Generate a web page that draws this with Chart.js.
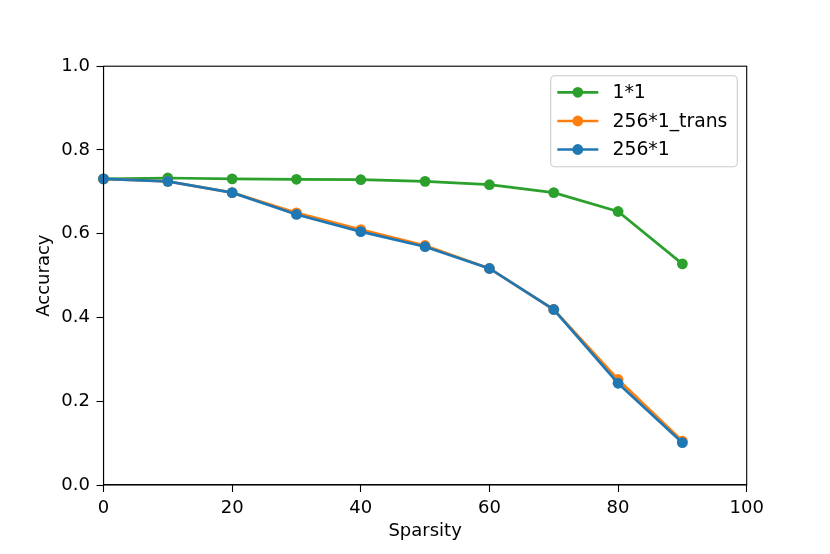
<!DOCTYPE html>
<html>
<head>
<meta charset="utf-8">
<script src="https://cdn.jsdelivr.net/npm/chart.js@4.4.1/dist/chart.umd.min.js"></script>
<style>
html,body{margin:0;padding:0;background:#fff;}
#wrap{width:830px;height:554px;position:relative;}
</style>
</head>
<body>
<div id="wrap"><canvas id="c" width="830" height="554"></canvas></div>
<script>
const sparsity = [0, 10, 20, 30, 40, 50, 60, 70, 80, 90];
const acc1x1 = [0.731, 0.733, 0.731, 0.730, 0.729, 0.725, 0.717, 0.698, 0.653, 0.528];
const acc256x1Trans = [0.731, 0.725, 0.698, 0.650, 0.610, 0.572, 0.517, 0.419, 0.252, 0.105];
const acc256x1 = [0.731, 0.725, 0.698, 0.646, 0.605, 0.569, 0.517, 0.419, 0.243, 0.101];
const seriesLabels = ['1*1', '256*1_trans', '256*1'];
const xTicks = [0, 20, 40, 60, 80, 100];
const yTicks = [0.0, 0.2, 0.4, 0.6, 0.8, 1.0];

const colors = ['#2ca02c', '#ff7f0e', '#1f77b4'];
const FONT = 'DejaVu Sans';
const FS = 18;
const LFS = 18.8;

function pts(vals){ return sparsity.map((x,i)=>({x:x, y:vals[i]})); }
function ds(label, vals, color, order){
  return {label, data: pts(vals), borderColor: color, backgroundColor: color,
    pointBackgroundColor: color, pointBorderColor: color, pointRadius: 5.4, pointBorderWidth: 0,
    borderWidth: 2.7, tension: 0, clip: false, order: order};
}

const frame = {
  id: 'frame',
  afterDraw(chart){
    const {ctx, chartArea:a} = chart;
    ctx.save();
    ctx.strokeStyle = '#000'; ctx.lineWidth = 1.1;
    ctx.strokeRect(a.left, a.top, a.right - a.left, a.bottom - a.top);
    // legend
    const bx = 550.7, by = 75.7, bw = 186.6, bh = 91, r = 4;
    ctx.beginPath();
    ctx.moveTo(bx + r, by);
    ctx.arcTo(bx + bw, by, bx + bw, by + bh, r);
    ctx.arcTo(bx + bw, by + bh, bx, by + bh, r);
    ctx.arcTo(bx, by + bh, bx, by, r);
    ctx.arcTo(bx, by, bx + bw, by, r);
    ctx.closePath();
    ctx.fillStyle = 'rgba(255,255,255,0.8)';
    ctx.fill();
    ctx.strokeStyle = '#cccccc'; ctx.lineWidth = 1.1;
    ctx.stroke();
    const rows = [92.3, 121, 149.5];
    chart.data.datasets.forEach((d, i) => {
      const y = rows[i];
      ctx.strokeStyle = d.borderColor; ctx.lineWidth = 2.7;
      ctx.beginPath(); ctx.moveTo(557.3, y); ctx.lineTo(598.3, y); ctx.stroke();
      ctx.fillStyle = d.borderColor;
      ctx.beginPath(); ctx.arc(577.8, y, 5.4, 0, Math.PI*2); ctx.fill();
      ctx.fillStyle = '#000';
      ctx.font = LFS + 'px "' + FONT + '"';
      ctx.textBaseline = 'middle'; ctx.textAlign = 'left';
      ctx.fillText(d.label, 612.5, y + 1);
    });
    ctx.restore();
  }
};

new Chart(document.getElementById('c'), {
  type: 'line',
  data: {
    datasets: [
      ds(seriesLabels[0], acc1x1, colors[0], 3),
      ds(seriesLabels[1], acc256x1Trans, colors[1], 2),
      ds(seriesLabels[2], acc256x1, colors[2], 1)
    ]
  },
  options: {
    responsive: false,
    animation: false,
    devicePixelRatio: 1,
    layout: { padding: { top: 66.2, right: 83.3, left: 0, bottom: 0 } },
    plugins: { legend: { display: false }, tooltip: { enabled: false } },
    scales: {
      x: {
        type: 'linear', min: 0, max: 100,
        afterFit(s){ s.height = 69; },
        afterBuildTicks(s){ s.ticks = xTicks.map(v => ({value: v})); },
        ticks: { color: '#000', font: { family: FONT, size: FS }, padding: 5.5, maxRotation: 0,
          callback: v => String(v) },
        grid: { drawOnChartArea: false, drawTicks: true, tickLength: 7, tickColor: '#000', tickWidth: 1.1 },
        border: { display: true, color: '#000', width: 1.1 },
        title: { display: true, text: 'Sparsity', color: '#000', font: { family: FONT, size: FS },
          padding: { top: 0, bottom: 11.8 } }
      },
      y: {
        type: 'linear', min: 0, max: 1,
        afterFit(s){ s.width = 103.5; },
        afterBuildTicks(s){ s.ticks = yTicks.map(v => ({value: v})); },
        ticks: { color: '#000', font: { family: FONT, size: FS }, padding: 6.5,
          callback: v => Number(v).toFixed(1) },
        grid: { drawOnChartArea: false, drawTicks: true, tickLength: 7, tickColor: '#000', tickWidth: 1.1 },
        border: { display: true, color: '#000', width: 1.1 },
        title: { display: true, text: 'Accuracy', color: '#000', font: { family: FONT, size: FS },
          padding: { top: 33.5, bottom: 0 } }
      }
    }
  },
  plugins: [frame]
});
</script>
</body>
</html>
